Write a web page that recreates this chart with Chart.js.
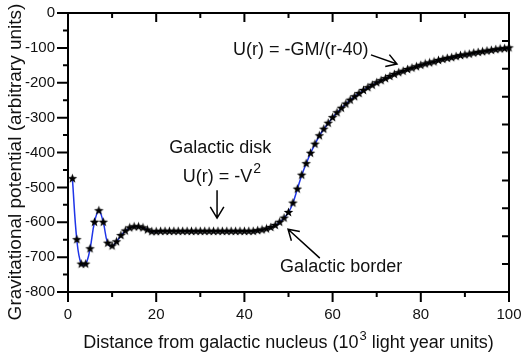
<!DOCTYPE html>
<html lang="en">
<head>
  <meta charset="UTF-8" />
  <title>Galactic gravitational potential</title>
  <script src="https://cdn.jsdelivr.net/npm/chart.js"></script>
  <style>
    * { margin: 0; padding: 0; box-sizing: border-box; }
    body { background: #fff; }
    .wrap { width: 522px; height: 360px; }
  </style>
</head>
<body>
  <div class="wrap"><canvas id="potChart"></canvas></div>
  <script>
    // distance from nucleus (10^3 ly) and potential
    const distance = [1, 2, 3, 4, 5, 6, 7, 8, 9, 10,
      11, 12, 13, 14, 15, 16, 17, 18, 19, 20,
      21, 22, 23, 24, 25, 26, 27, 28, 29, 30,
      31, 32, 33, 34, 35, 36, 37, 38, 39, 40,
      41, 42, 43, 44, 45, 46, 47, 48, 49, 50,
      51, 52, 53, 54, 55, 56, 57, 58, 59, 60,
      61, 62, 63, 64, 65, 66, 67, 68, 69, 70,
      71, 72, 73, 74, 75, 76, 77, 78, 79, 80,
      81, 82, 83, 84, 85, 86, 87, 88, 89, 90,
      91, 92, 93, 94, 95, 96, 97, 98, 99, 100];
    const potential = [-475, -650, -720, -720, -676, -600, -567, -600, -660, -668,
      -656, -638, -625, -616, -613, -613, -616, -622, -627, -627,
      -626, -626, -626, -626, -626, -626, -626, -626, -626, -626,
      -626, -626, -626, -626, -626, -626, -626, -626, -626, -626,
      -626, -626, -624, -622, -619, -615, -609, -600, -588, -572,
      -545, -505, -465, -432, -402, -376, -352, -333, -316, -300,
      -286, -273, -261, -250, -240, -231, -222, -214, -207, -200,
      -194, -188, -182, -176, -171, -167, -162, -158, -154, -150,
      -146, -143, -140, -136, -133, -130, -128, -125, -122, -120,
      -118, -115, -113, -111, -109, -107, -105, -103, -102, -100];
    const xTickStep = 20;
    const yTickStep = 100;
    const rightTickStep = 80;

    const ink = '#111';
    const font = 'Liberation Sans, Arial, sans-serif';

    // filled five-point star used as the marker
    function makeStar(r) {
      const c = document.createElement('canvas');
      c.width = c.height = Math.ceil(r * 2) + 1;
      const g = c.getContext('2d');
      g.translate(c.width / 2, c.height / 2);
      g.beginPath();
      for (let i = 0; i < 10; i++) {
        const rad = i % 2 ? r * 0.42 : r;
        const a = -Math.PI / 2 + i * Math.PI / 5;
        g.lineTo(rad * Math.cos(a), rad * Math.sin(a));
      }
      g.closePath();
      g.fillStyle = '#000';
      g.fill();
      return c;
    }

    function arrow(ctx, x1, y1, x2, y2, len) {
      const a = Math.atan2(y2 - y1, x2 - x1);
      ctx.beginPath();
      ctx.moveTo(x1, y1); ctx.lineTo(x2, y2);
      ctx.moveTo(x2 - len * Math.cos(a - 0.55), y2 - len * Math.sin(a - 0.55));
      ctx.lineTo(x2, y2);
      ctx.lineTo(x2 - len * Math.cos(a + 0.55), y2 - len * Math.sin(a + 0.55));
      ctx.stroke();
    }

    // base + raised smaller piece + optional tail, centred on cx
    function supText(ctx, base, sup, tail, cx, cy, size, supSize, rise) {
      const big = size + 'px ' + font, small = supSize + 'px ' + font;
      ctx.font = big;
      const w1 = ctx.measureText(base).width;
      const w3 = ctx.measureText(tail).width;
      ctx.font = small;
      const w2 = ctx.measureText(sup).width;
      let left = cx - (w1 + w2 + w3 + 1) / 2;
      ctx.textAlign = 'left';
      ctx.font = big;
      ctx.fillText(base, left, cy);
      ctx.font = small;
      ctx.fillText(sup, left + w1 + 1, cy - rise);
      ctx.font = big;
      ctx.fillText(tail, left + w1 + 1 + w2, cy);
    }

    const framePlugin = {
      id: 'frame',
      afterDraw(chart) {
        const { ctx, chartArea: a, scales: { x, y } } = chart;
        ctx.save();
        ctx.strokeStyle = '#000';
        ctx.lineWidth = 2;
        ctx.strokeRect(a.left, a.top, a.right - a.left, a.bottom - a.top);
        ctx.beginPath();
        for (let v = x.min; v <= x.max; v += 10) {
          const px = x.getPixelForValue(v);
          ctx.moveTo(px, a.bottom); ctx.lineTo(px, a.bottom + (v % 20 === 0 ? 10 : 5));
          ctx.moveTo(px, a.top); ctx.lineTo(px, a.top + (v % 20 === 0 ? 9 : 5));
        }
        for (let v = y.min; v <= y.max; v += 50) {
          const py = y.getPixelForValue(v);
          ctx.moveTo(a.left, py); ctx.lineTo(a.left - (v % 100 === 0 ? 11 : 5), py);
        }
        for (let v = y.max; v >= y.min; v -= rightTickStep) {
          const py = y.getPixelForValue(v);
          ctx.moveTo(a.right, py); ctx.lineTo(a.right - 7, py);
        }
        ctx.stroke();

        ctx.fillStyle = ink;
        ctx.textBaseline = 'middle';

        // axis titles
        supText(ctx, 'Distance from galactic nucleus (10', '3', ' light year units)',
          (a.left + a.right) / 2, 343, 18, 13, 7);
        ctx.save();
        ctx.translate(16, 162);
        ctx.rotate(-Math.PI / 2);
        ctx.font = '19px ' + font;
        ctx.textAlign = 'center';
        ctx.fillText('Gravitational potential (arbitrary units)', 0, 0);
        ctx.restore();

        // annotations
        ctx.lineWidth = 1.5;
        const X = v => x.getPixelForValue(v), Y = v => y.getPixelForValue(v);
        ctx.font = '18px ' + font;
        ctx.textAlign = 'left';
        ctx.fillText('U(r) = -GM/(r-40)', X(37.4), Y(-106));
        arrow(ctx, X(68.7), Y(-120), X(74.6), Y(-146), 12);

        ctx.textAlign = 'center';
        ctx.fillText('Galactic disk', X(34.5), Y(-388));
        supText(ctx, 'U(r) = -V', '2', '', X(34.9), Y(-470), 18, 14, 8);
        arrow(ctx, X(33.8), Y(-508), X(33.8), Y(-588), 13);

        ctx.font = '18px ' + font;
        ctx.textAlign = 'left';
        ctx.fillText('Galactic border', X(48.1), Y(-729));
        arrow(ctx, X(57.1), Y(-703), X(49.9), Y(-620), 12);
        ctx.restore();
      }
    };

    const points = distance.map((d, i) => ({ x: d, y: potential[i] }));

    new Chart(document.getElementById('potChart'), {
      type: 'line',
      data: {
        datasets: [{
          data: points,
          borderColor: '#1f35e8',
          borderWidth: 1.5,
          tension: 0.4,
          pointStyle: makeStar(5),
          pointRadius: 5,
          clip: false
        }]
      },
      options: {
        responsive: true,
        maintainAspectRatio: false,
        animation: false,
        layout: { padding: { top: 13, right: 13, left: 0, bottom: 0 } },
        plugins: { legend: { display: false }, tooltip: { enabled: false } },
        scales: {
          x: {
            type: 'linear', min: 0, max: 100,
            grid: { display: false, drawTicks: false },
            border: { display: false },
            ticks: { stepSize: xTickStep, padding: 14, color: ink, font: { family: font, size: 15 } },
            afterFit: s => { s.height = 68; s.paddingLeft = 0; s.paddingRight = 0; }
          },
          y: {
            min: -800, max: 0,
            grid: { display: false, drawTicks: false },
            border: { display: false },
            ticks: { stepSize: yTickStep, padding: 13, color: ink, font: { family: font, size: 15 } },
            afterFit: s => { s.width = 68; s.paddingTop = 0; s.paddingBottom = 0; }
          }
        }
      },
      plugins: [framePlugin]
    });
  </script>
</body>
</html>
